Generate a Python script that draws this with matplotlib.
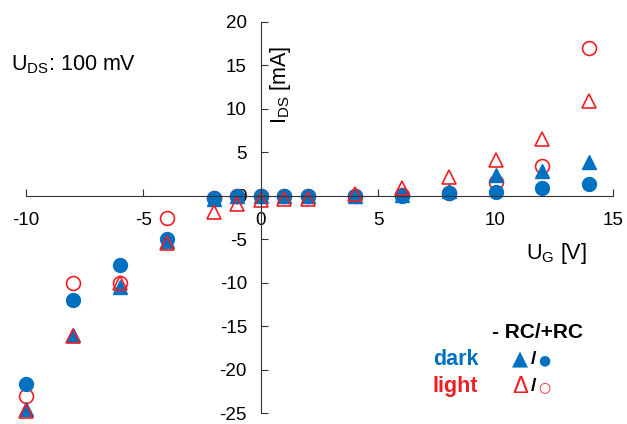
import matplotlib.pyplot as plt

plt.rcParams['font.family'] = ['Liberation Sans', 'DejaVu Sans']
plt.rcParams['mathtext.fontset'] = 'custom'
plt.rcParams['mathtext.rm'] = 'Liberation Sans'
plt.rcParams['mathtext.it'] = 'Liberation Sans'
plt.rcParams['axes.unicode_minus'] = False

# gate voltage U_G [V]
ug = [-10, -8, -6, -4, -2, -1, 0, 1, 2, 4, 6, 8, 10, 12, 14]

# drain current I_DS [mA]
dark_norc = [-24.5, -16.0, -10.5, -5.2, -0.4, 0.0, 0.0, 0.0, 0.0, 0.0, 0.1, 0.5, 2.4, 2.85, 3.9]
dark_rc = [-21.7, -12.0, -8.0, -4.95, -0.3, 0.0, 0.0, 0.0, 0.0, 0.0, 0.0, 0.27, 0.46, 0.84, 1.35]
light_norc = [-24.8, -16.2, -10.0, -5.4, -1.9, -0.95, -0.55, -0.4, -0.4, 0.15, 0.9, 2.1, 4.05, 6.45, 10.85]
light_rc = [-23.0, -10.0, -10.0, -2.6, -0.3, 0.0, 0.0, 0.0, 0.0, 0.0, 0.1, 0.3, 1.5, 3.4, 16.95]

blue = '#0070C0'
red = '#F01E23'

fig = plt.figure(figsize=(6.27, 4.24), dpi=100)
ax = fig.add_axes([0.0415, 0.0259, 0.936, 0.9233])

ax.plot(ug, light_rc, 'o', ms=10, mfc='white', mec=red, mew=1.2, ls='none', clip_on=False)
ax.plot(ug, dark_rc, 'o', ms=10, color=blue, ls='none', clip_on=False)
ax.plot(ug, dark_norc, '^', ms=10, color=blue, ls='none', clip_on=False)
ax.plot(ug, light_norc, '^', ms=10, mfc='none', mec=red, mew=1.2, ls='none', clip_on=False)

ax.set_xlim(-10, 15)
ax.set_ylim(-25, 20)
ax.set_xticks(range(-10, 16, 5))
ax.set_yticks(range(-25, 21, 5))

ax.spines['left'].set_position(('data', 0))
ax.spines['bottom'].set_position(('data', 0))
ax.spines['right'].set_visible(False)
ax.spines['top'].set_visible(False)
for s in ['left', 'bottom']:
    ax.spines[s].set_color('#333333')
ax.tick_params(direction='in', length=5, color='#333333', labelsize=13.5, pad=10)
ax.tick_params(axis='x', pad=12)

fig.text(0.018, 0.835, r'U$_{\mathrm{DS}}$: 100 mV', fontsize=15.5)
fig.text(0.448, 0.80, r'I$_{\mathrm{DS}}$ [mA]', fontsize=15.5, rotation=90,
         ha='center', va='center')
fig.text(0.888, 0.403, r'U$_{\mathrm{G}}$ [V]', fontsize=15.5, ha='center', va='center')

fig.text(0.857, 0.215, '- RC/+RC', fontsize=15, fontweight='bold', ha='center', va='center')
fig.text(0.69, 0.152, 'dark', fontsize=15.5, fontweight='bold', color=blue, va='center')
fig.text(0.817, 0.152, '▲', fontsize=15, color=blue, va='center', family='DejaVu Sans')
fig.text(0.846, 0.152, '/', fontsize=14, fontweight='bold', va='center')
fig.text(0.858, 0.150, '●', fontsize=10, color=blue, va='center', family='DejaVu Sans')
fig.text(0.69, 0.088, 'light', fontsize=15.5, fontweight='bold', color=red, va='center')
fig.text(0.817, 0.088, 'Δ', fontsize=17, color=red, va='center')
fig.text(0.846, 0.088, '/', fontsize=14, fontweight='bold', va='center')
fig.text(0.858, 0.086, '○', fontsize=10, color=red, va='center', family='DejaVu Sans')

fig.savefig('out.png', dpi=100)
